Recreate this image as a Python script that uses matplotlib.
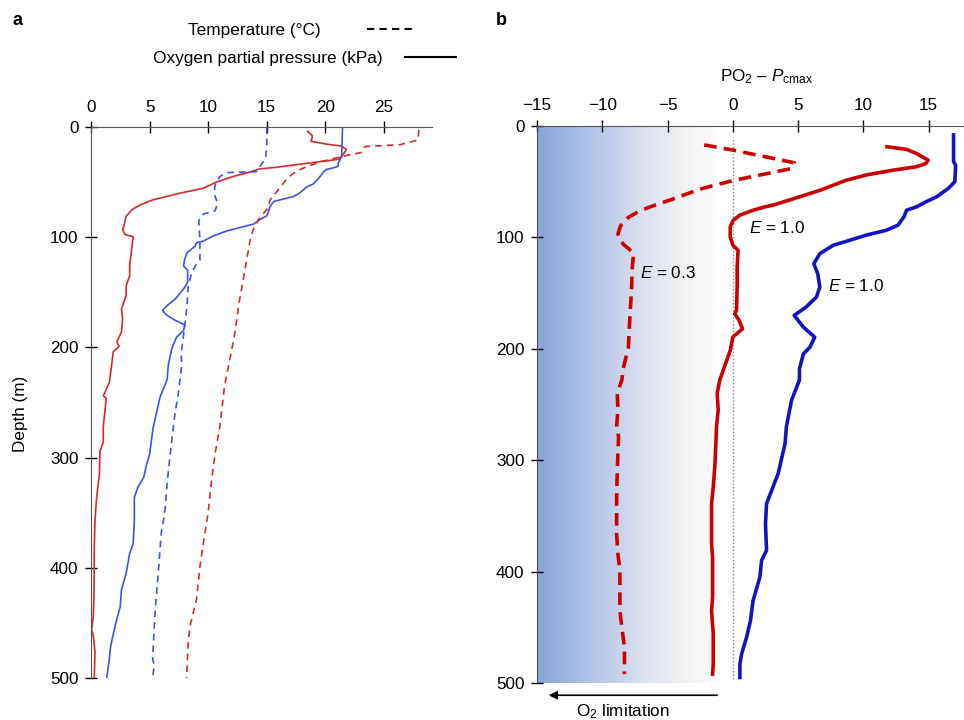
import numpy as np
import matplotlib
matplotlib.use("Agg")
import matplotlib.pyplot as plt
from matplotlib.colors import LinearSegmentedColormap
from matplotlib.lines import Line2D

plt.rcParams['font.family'] = ['Liberation Sans', 'DejaVu Sans']
plt.rcParams['font.size'] = 12
plt.rcParams['mathtext.fontset'] = 'custom'
plt.rcParams['mathtext.rm'] = 'Liberation Sans'
plt.rcParams['mathtext.it'] = 'Liberation Sans:italic'
plt.rcParams['mathtext.bf'] = 'Liberation Sans:bold'

# ---- panel a : profiles (depth in m) ----
red_o2_depth = [4, 8, 13, 15.5, 17.4, 20.4, 25.5, 29.4, 31.5, 34.5,
                36.6, 38, 40.5, 45, 50, 55.5, 57.6, 60, 63, 66,
                70.6, 75, 81, 90, 93, 97.5, 99.6, 108, 117, 126,
                135, 144, 153, 165, 174, 186, 195, 199, 204, 217,
                232, 244, 246, 272, 286, 294, 316, 336, 357, 381,
                420, 444, 456, 462, 476, 500]
red_o2 = [18.5, 18.9, 18.8, 20.1, 21.4, 21.8, 21.5, 21.1, 19.5, 17.3,
          15.8, 14.4, 13.7, 12.1, 10.7, 9.6, 8.7, 7.6, 6.5, 5.3,
          4.2, 3.5, 3.0, 2.8, 2.7, 2.9, 3.6, 3.5, 3.4, 3.3,
          3.3, 3.0, 3.0, 2.6, 2.7, 2.6, 2.2, 2.4, 1.9, 1.75,
          1.56, 1.05, 1.3, 1.05, 1.05, 0.77, 0.71, 0.48, 0.34, 0.28,
          0.26, 0.2, 0.06, 0.2, 0.34, 0.28]

blue_o2_depth = [0, 27, 32.7, 35.7, 37, 38.5, 41.4, 47, 51.5, 54.5,
                 60, 63, 64.6, 67.6, 72, 80.7, 84, 88, 91.3, 94.3,
                 99, 103.5, 105, 108, 114, 120, 126, 130, 141, 147,
                 156, 162, 166.5, 171, 175.5, 179.6, 184.7, 190.7, 201, 216,
                 229, 245, 259, 273, 297, 306, 318, 327, 336, 357,
                 378, 387, 405, 420, 435, 453, 471, 483, 500]
blue_o2 = [21.47, 21.4, 21.1, 21.1, 20.7, 20.1, 19.8, 19.4, 19.0, 18.4,
           17.8, 17.3, 16.7, 15.6, 15.3, 15.0, 14.4, 13.9, 12.7, 11.6,
           10.4, 9.6, 9.0, 8.9, 8.2, 8.0, 7.9, 8.25, 8.25, 7.9,
           7.2, 6.5, 6.1, 6.5, 7.2, 8.0, 7.9, 7.3, 6.9, 6.6,
           6.5, 5.9, 5.6, 5.3, 5.0, 4.75, 4.5, 4.0, 3.7, 3.7,
           3.6, 3.3, 3.0, 2.6, 2.5, 2.05, 1.68, 1.56, 1.34]

red_temp_depth = [2.7, 11.8, 16, 17.7, 23, 26.6, 31, 35.6, 40, 46,
                  55.5, 66, 73.5, 84, 93, 102, 120, 144, 162, 186,
                  208, 219, 235, 272, 296, 320, 350, 377, 399, 429,
                  453, 468, 500]
red_temp = [28.0, 27.9, 26.4, 23.4, 23.1, 21.5, 19.8, 18.5, 17.55, 16.8,
            16.1, 15.3, 15.1, 14.3, 13.85, 13.6, 13.3, 12.9, 12.6, 12.3,
            11.9, 11.7, 11.4, 11.0, 10.6, 10.3, 10.0, 9.6, 9.3, 9.0,
            8.45, 8.3, 8.16]

blue_temp_depth = [0, 18, 29, 40.5, 41.4, 45, 52.6, 60, 69, 76,
                   79, 85, 103, 121, 126, 132, 144, 162, 181, 205,
                   217, 242, 260, 284, 299, 323, 350, 368, 405, 429,
                   453, 483, 488, 500]
blue_temp = [15.0, 15.0, 14.9, 14.1, 11.6, 11.0, 10.6, 10.5, 10.8, 10.6,
             9.6, 9.2, 9.3, 9.3, 8.9, 8.6, 8.3, 8.2, 8.0, 7.7,
             7.74, 7.45, 7.17, 6.9, 6.74, 6.5, 6.3, 6.0, 5.74, 5.55,
             5.4, 5.26, 5.4, 5.26]

# ---- panel b : PO2 - Pcmax ----
red_e03_depth = [17, 21.6, 33, 38.4, 49, 56.6, 65.6, 71.6, 76, 82,
                 89.6, 97, 106, 114, 127, 145, 175, 199, 218, 228,
                 240, 255, 270, 279, 309, 336, 366, 384, 399, 435,
                 450, 468, 492]
red_e03 = [-2.2, 0.0, 4.7, 4.4, 0.0, -2.5, -4.6, -6.1, -7.1, -8.0,
           -8.6, -8.8, -8.4, -7.6, -7.7, -7.75, -7.9, -8.0, -8.4, -8.5,
           -8.85, -8.8, -8.9, -8.75, -8.85, -8.9, -8.9, -8.8, -8.65, -8.65,
           -8.5, -8.3, -8.3]

red_e10_depth = [18.6, 21, 24.6, 30.6, 33.6, 36.6, 39.6, 44, 48.6, 57.6,
                 63.6, 71, 72.6, 75.6, 80, 84.6, 90.6, 99.6, 107, 111.6,
                 126.6, 144.6, 165.5, 168.6, 174.5, 182, 186.6, 189.6, 201.6, 218,
                 228, 240, 255, 270, 285, 306, 324, 339, 375, 387,
                 423, 435, 456, 483, 492]
red_e10 = [11.8, 13.3, 14.05, 14.95, 14.8, 14.05, 12.3, 10.2, 8.7, 6.7,
           5.1, 3.1, 2.45, 1.55, 0.54, 0.03, -0.2, -0.2, 0.0, 0.4,
           0.33, 0.33, 0.28, 0.15, 0.48, 0.74, 0.28, 0.0, -0.2, -0.7,
           -1.0, -1.2, -1.12, -1.25, -1.3, -1.38, -1.5, -1.63, -1.63, -1.55,
           -1.55, -1.63, -1.5, -1.5, -1.55]

blue_e10_depth = [8, 32, 35, 50, 56, 63.6, 68, 72.6, 75.6, 81.6,
                  89, 93.6, 98, 102.6, 107, 114.6, 123.6, 132.6, 144.6, 153.6,
                  162.6, 170, 180.5, 189.6, 198.6, 204.6, 218, 228, 246, 270,
                  285, 312, 339, 357, 381, 390, 405, 426, 444, 459,
                  474, 483, 495]
blue_e10 = [16.9, 16.9, 17.06, 17.0, 16.5, 15.6, 14.8, 14.05, 13.3, 13.1,
            12.65, 11.75, 10.2, 8.95, 7.7, 6.66, 6.2, 6.5, 6.66, 6.4,
            5.6, 4.7, 5.4, 6.27, 5.9, 5.4, 5.1, 5.1, 4.5, 4.1,
            4.0, 3.47, 2.58, 2.5, 2.58, 2.2, 2.07, 1.55, 1.35, 1.05,
            0.67, 0.54, 0.54]

limit_edge = -1.3   # where the O2 limitation shading fades out

a_ticks = [0, 5, 10, 15, 20, 25]
b_ticks = [-15, -10, -5, 0, 5, 10, 15]
depth_ticks = [0, 100, 200, 300, 400, 500]

red_a = '#d42a2a'
blue_a = '#3f52e0'
red_b = '#cc0000'
blue_b = '#1414bf'

fig = plt.figure(figsize=(9.64, 7.2), dpi=100)
ax1 = fig.add_axes([0.0944, 0.0583, 0.3536, 0.7653])
ax2 = fig.add_axes([0.557, 0.0514, 0.443, 0.7736])


def style_axis(ax):
    ax.spines['right'].set_visible(False)
    ax.spines['bottom'].set_visible(False)
    ax.spines['top'].set_color('#555555')
    ax.spines['left'].set_color('#555555')
    ax.xaxis.tick_top()
    ax.tick_params(axis='both', direction='inout', length=8, width=1,
                   color='black', labelsize=12.3, pad=5)
    ax.set_yticks(depth_ticks)
    ax.set_ylim(500, 0)


# panel a
ax1.plot(red_o2, red_o2_depth, color=red_a, lw=1.2)
ax1.plot(blue_o2, blue_o2_depth, color=blue_a, lw=1.2)
ax1.plot(red_temp, red_temp_depth, color=red_a, lw=1.2, ls=(0, (4, 3)))
ax1.plot(blue_temp, blue_temp_depth, color=blue_a, lw=1.2, ls=(0, (4, 3)))
style_axis(ax1)
ax1.set_xticks(a_ticks)
ax1.set_xlim(0, 29.1)
ax1.set_ylabel('Depth (m)', fontsize=12.3)
ax1.yaxis.set_label_coords(-0.186, 0.48)

# legend, labels on the left of the keys
h1 = [Line2D([], [], color='black', lw=1.5, ls=(0, (3.5, 2.5)))]
fig.legend(h1, ['Temperature (°C)'], loc='center right',
           bbox_to_anchor=(0.4419, 0.957), markerfirst=False,
           frameon=False, borderpad=0, handlelength=2.9,
           handletextpad=2.7, fontsize=12.4)
h2 = [Line2D([], [], color='black', lw=1.5)]
fig.legend(h2, ['Oxygen partial pressure (kPa)'], loc='center right',
           bbox_to_anchor=(0.4824, 0.919), markerfirst=False,
           frameon=False, borderpad=0, handlelength=3.0,
           handletextpad=1.3, fontsize=12.4)

# panel b
cmap = LinearSegmentedColormap.from_list(
    'o2lim', [(0.0, '#87a4db'), (0.3, '#b3c3e6'), (0.6, '#dce2ee'),
              (0.85, '#f3f3f3'), (1.0, '#fcfcfc')])
ax2.imshow(np.linspace(0, 1, 256).reshape(1, -1), cmap=cmap, aspect='auto',
           extent=[-15, limit_edge, 500, 0], zorder=0)
ax2.axvline(0, ymin=0.008, ymax=0.98, color='#888888', lw=1, ls=(0, (1, 1.5)))
ax2.plot(red_e03, red_e03_depth, color=red_b, lw=2.6, ls=(0, (3.5, 2)))
ax2.plot(red_e10, red_e10_depth, color=red_b, lw=2.6)
ax2.plot(blue_e10, blue_e10_depth, color=blue_b, lw=2.6)
style_axis(ax2)
ax2.set_xticks(b_ticks)
ax2.set_xlim(-15, 17.7)

ax2.text(-7.1, 132, '$E$ = 0.3', fontsize=12.3, va='center', ha='left')
ax2.text(1.2, 92, '$E$ = 1.0', fontsize=12.3, va='center', ha='left')
ax2.text(7.3, 144, '$E$ = 1.0', fontsize=12.3, va='center', ha='left')

ax2.text(2.6, 1.088, 'PO$_2$ – $P_{\\mathrm{cmax}}$', transform=ax2.get_xaxis_transform(),
         ha='center', va='center', fontsize=12.3)

ax2.annotate('', xy=(-14.1, -0.022), xytext=(-1.2, -0.022),
             xycoords=('data', 'axes fraction'), textcoords=('data', 'axes fraction'),
             arrowprops=dict(arrowstyle='-|>', color='black', lw=1.2,
                             mutation_scale=12, shrinkA=0, shrinkB=0))
ax2.text(-8.4, -0.052, 'O$_2$ limitation', transform=ax2.get_xaxis_transform(),
         ha='center', va='center', fontsize=12.3)

fig.text(0.0125, 0.972, 'a', fontsize=13, fontweight='bold', va='center')
fig.text(0.514, 0.972, 'b', fontsize=13, fontweight='bold', va='center')

fig.savefig('out.png', dpi=100)
